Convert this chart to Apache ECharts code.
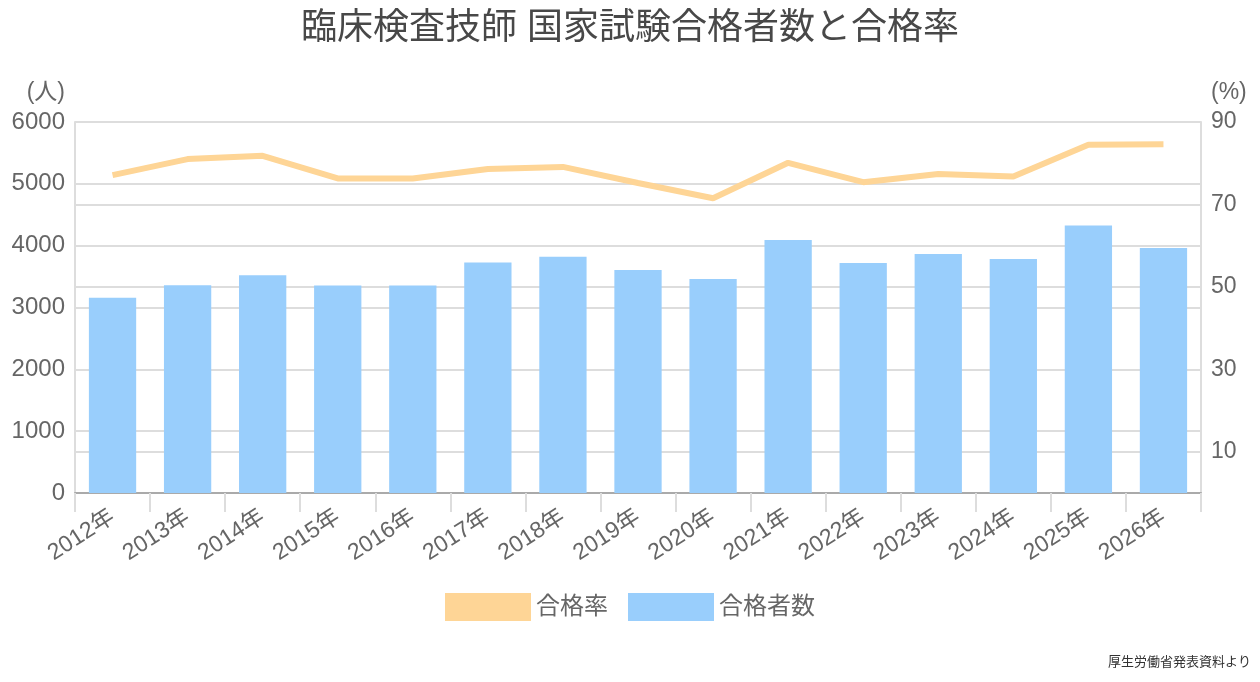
<!DOCTYPE html>
<html>
<head>
<meta charset="utf-8">
<script src="https://cdn.jsdelivr.net/npm/echarts@6/dist/echarts.min.js"></script>
<style>
  html, body { margin: 0; padding: 0; background: #fff; }
  #main { width: 1260px; height: 682px; }
</style>
</head>
<body>
<div id="main"></div>
<script>
// 年度
var years = ['2012年', '2013年', '2014年', '2015年', '2016年', '2017年', '2018年', '2019年',
             '2020年', '2021年', '2022年', '2023年', '2024年', '2025年', '2026年'];
// 合格者数 (人)
var passCount = [3156, 3361, 3523, 3356, 3356, 3728, 3820, 3608, 3462, 4091, 3720, 3866, 3785, 4328, 3962];
// 合格率 (%)
var passRate = [77.1, 81.0, 81.8, 76.3, 76.3, 78.6, 79.1, 75.2, 71.5, 80.1, 75.4, 77.4, 76.8, 84.5, 84.6];
// 右軸の目盛り (%)
var rateTicks = [10, 30, 50, 70, 90];

var font = '"Liberation Sans", "Noto Sans CJK JP", sans-serif';
var myChart = echarts.init(document.getElementById('main'));

var option = {
    backgroundColor: '#fff',
    animation: false,
    textStyle: { fontFamily: font },
    title: [{
        text: '臨床検査技師 国家試験合格者数と合格率',
        left: 'center',
        top: 6,
        textStyle: { fontFamily: font, fontSize: 36, fontWeight: 'normal', color: '#484848' }
    }, {
        text: '厚生労働省発表資料より',
        right: 4,
        bottom: 8,
        textStyle: { fontFamily: font, fontSize: 13, fontWeight: 'normal', color: '#333' }
    }],
    legend: {
        bottom: 56,
        left: 'center',
        itemWidth: 86,
        itemHeight: 28,
        itemGap: 20,
        textStyle: { fontFamily: font, fontSize: 24, color: '#666' },
        data: [
            { name: '合格率', icon: 'rect', itemStyle: { color: '#fed596' } },
            { name: '合格者数', icon: 'rect' }
        ]
    },
    grid: { left: 75, right: 59, top: 122, bottom: 189 },
    xAxis: {
        type: 'category',
        data: years,
        axisLine: { lineStyle: { color: '#aaa', width: 2 } },
        axisTick: { show: true, length: 19, lineStyle: { color: '#ddd', width: 2 } },
        axisLabel: { rotate: 33, fontSize: 23, color: '#666', margin: 22, fontFamily: font }
    },
    yAxis: [{
        type: 'value',
        min: 0,
        max: 6000,
        interval: 1000,
        name: '(人)',
        nameGap: 18,
        nameTextStyle: { fontSize: 23, color: '#666', align: 'right', padding: [0, 10, 0, 0], fontFamily: font },
        axisLine: { show: true, lineStyle: { color: '#ddd', width: 2 } },
        axisLabel: {
            fontSize: 24, color: '#666', margin: 10, fontFamily: font,
            formatter: function (v) { return String(v); }
        },
        splitLine: { lineStyle: { color: '#ddd', width: 2 } }
    }, {
        type: 'value',
        min: 0,
        max: 90,
        interval: 10,
        name: '(%)',
        nameGap: 18,
        nameTextStyle: { fontSize: 23, color: '#666', align: 'left', padding: [0, 0, 0, 10], fontFamily: font },
        axisLine: { show: true, lineStyle: { color: '#ddd', width: 2 } },
        axisLabel: {
            fontSize: 23, color: '#666', margin: 10, fontFamily: font,
            formatter: function (v) { return rateTicks.indexOf(v) >= 0 ? String(v) : ''; }
        },
        splitLine: { show: false }
    }],
    series: [{
        name: '合格率',
        type: 'line',
        yAxisIndex: 1,
        data: passRate,
        symbol: 'none',
        lineStyle: { color: '#fed596', width: 6 },
        itemStyle: { color: '#fed596' },
        z: 5,
        markLine: {
            silent: true,
            symbol: 'none',
            label: { show: false },
            lineStyle: { color: '#ddd', width: 2, type: 'solid' },
            z: 1,
            data: rateTicks.slice(0, 4).map(function (v) { return { yAxis: v }; })
        }
    }, {
        name: '合格者数',
        type: 'bar',
        yAxisIndex: 0,
        data: passCount,
        barCategoryGap: '37%',
        itemStyle: { color: '#99cefc' }
    }]
};
myChart.setOption(option);
</script>
</body>
</html>
